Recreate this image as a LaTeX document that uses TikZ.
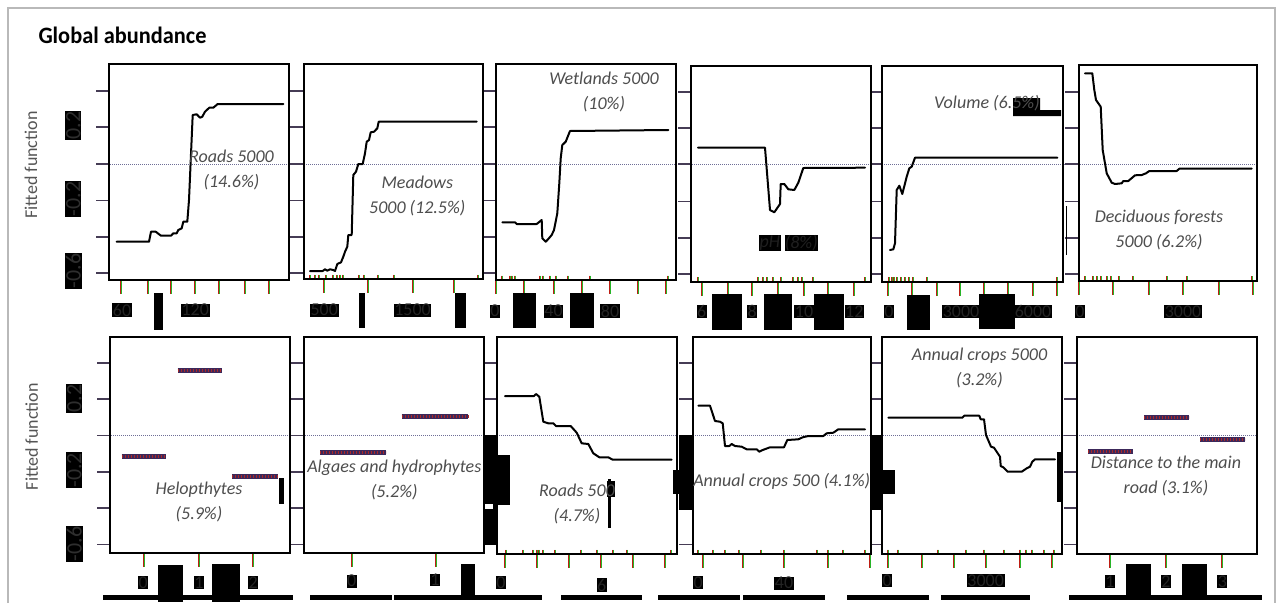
\documentclass[tikz,border=0pt]{standalone}
\usepackage{fontspec}
\setmainfont{Carlito}
\newcommand\rugticks[2]{\foreach \xx in {#2} {\draw[rugr] (\xx-0.5,#1-4.5) -- (\xx-0.5,#1); \draw[rugg] (\xx+0.5,#1-4.5) -- (\xx+0.5,#1);}}
\newcommand\axticks[2]{\foreach \xx in {#2} {\draw[rugr] (\xx-0.5,#1) -- (\xx-0.5,#1+14); \draw[rugg] (\xx+0.5,#1) -- (\xx+0.5,#1+14);}}
\newcommand\yticks[3]{\foreach \yy in {#3} {\draw[ytk] (#1,\yy) -- (#2,\yy);}}
\begin{document}
\begin{tikzpicture}[x=1pt,y=-1pt,
  frame/.style={draw=black, line width=2pt},
  curve/.style={draw=black, line width=2pt, line join=round, line cap=round},
  ytk/.style={draw={rgb,255:red,70;green,60;blue,85}, line width=1.8pt},
  zero/.style={draw={rgb,255:red,110;green,110;blue,150}, line width=0.7pt, dash pattern=on 1pt off 1pt},
  rugr/.style={draw={rgb,255:red,190;green,30;blue,20}, line width=1pt},
  rugg/.style={draw={rgb,255:red,40;green,180;blue,40}, line width=1pt},
  lbl/.style={text={rgb,255:red,78;green,78;blue,78}, font=\fontsize{18}{25}\selectfont\itshape, align=center, inner sep=0pt},
  tl/.style={fill=black, text=black!86, inner sep=0.6pt, font=\fontsize{18}{18}\selectfont},
  yl/.style={fill=black, text=black!82, inner sep=0.8pt, rotate=90, font=\fontsize{22}{22}\selectfont},
  ff/.style={rotate=90, text={rgb,255:red,85;green,85;blue,85}, font=\fontsize{18}{18}\selectfont, inner sep=0pt},
  blk/.style={fill=black},
  fbar/.style={draw={rgb,255:red,60;green,40;blue,90}, line width=5pt},
  fdot/.style={draw={rgb,255:red,170;green,40;blue,40}, line width=3pt, dash pattern=on 1pt off 2pt}
]
\useasboundingbox (0,0) rectangle (1280,603);
\fill[white] (0,0) rectangle (1280,603);
\draw[gray!55, line width=1.5pt] (8,603) -- (8,8) -- (1275,8) -- (1275,603);

% title
\node[anchor=west, inner sep=0pt] (title) at (38.3,35) {\resizebox{168pt}{16.5pt}{\bfseries Global abundance}};

% y axis labels
\node[ff] (ff1) at (31,165) {Fitted function};
\node[ff] (ff2) at (31.7,436.7) {Fitted function};
\node[yl] (ya1) at (73.3,125.5) {0.2};
\node[yl] (ya2) at (73.3,198.7) {-0.2};
\node[yl] (ya3) at (73.3,270.8) {-0.6};
\node[yl] (yb1) at (74.3,398.3) {0.2};
\node[yl] (yb2) at (74.3,470.3) {-0.2};
\node[yl] (yb3) at (74.3,543.8) {-0.6};

% zero lines
\draw[zero] (96,164) -- (1257,164);
\draw[zero] (97,435.5) -- (1257,435.5);

% y ticks
\yticks{96}{109}{91,127,164,200.5,237,273}
\yticks{290}{304}{91,127,164,200.5,237,273}
\yticks{484}{496}{91,127,164,200.5,237,273}
\yticks{678}{690.7}{92,128,164,201.5,238,274}
\yticks{872}{882.3}{92,128,164,201.5,238,274}
\yticks{1065}{1079}{92,128,164,201.5,238,274}
\yticks{97}{110}{363,399,435.5,472,508,544.5}
\yticks{291}{304}{363,399,435.5,472,508,544.5}
\yticks{485}{497.3}{363,399,435.5,472,508,544.5}
\yticks{679}{692.7}{363,399,435.5,472,508,544.5}
\yticks{872}{882.3}{363,399,435.5,472,508,544.5}
\yticks{1064}{1076.7}{363,399,435.5,472,508,544.5}

% rug ticks and axis ticks, top row
\axticks{280}{121,147.7,171,195,219.3,245,269}
\rugticks{279.3}{310,315,319.3,326,332.7,336.7,340,342.7,359.3,364.3,378.3,394.3,478.3}
\axticks{279.3}{324.3,368.3,412.7,454.3}
\rugticks{280}{501.7,510,512.3,515,540,543.3,550,556,567.7,590,668.3}
\axticks{280}{496,524.3,554,582.3,610,638.3,666}
\rugticks{281.7}{698.3,758.3,762.7,766.7,772.7,781,792.7,797.7,801.7,812.7,865}
\axticks{281.7}{701.7,728.3,752.3,778.3,804,828.3,854.3}
\rugticks{281.7}{889.3,891.5,893.5,896.7,900.7,905,909.3,913.3,926.7,1057}
\axticks{281.7}{888.3,912.3,936.7,960,984,1008.3,1032.7,1056.7}
\rugticks{280.7}{1085,1093.3,1097.3,1101,1106.7,1111,1119,1133.3,1167.3,1186.7,1251.7}
\axticks{280.7}{1079,1113.3,1149,1183.3,1219,1253.3}
% bottom row
\axticks{552.7}{144,199.3,253.3}
\axticks{552.7}{351.7,436}
\rugticks{554.3}{506,523.3,533.3,537.3,539.3,543.3,555,581,597.3,613.3,626.7,671}
\axticks{554.3}{505,537.3,569.3,600.7,633.3,665}
\rugticks{554.3}{698.3,712.7,725,739.3,760.7,784.3,817.3,828.3,842.7,865}
\axticks{554.3}{702.7,743.3,784.3,828.3,870}
\rugticks{554}{888.3,898.3,938.3,966,984.3,1004.3,1020,1026,1031.7,1044.3,1054.3}
\axticks{554}{888.3,922.3,954.3,986,1020,1052.3}
\axticks{554}{1110,1166,1222.3}

% curves top row
\draw[curve] plot coordinates {(116.7,241.7) (149,241.7) (151,231.7) (155.7,231.7) (161,235.7) (171,235.7) (173.3,233.3) (176.7,233.3) (178.3,230) (181.7,228.3) (183.3,221.7) (187.3,221.7) (189,200) (192.7,115) (196.7,114.3) (200,117.7) (202.3,116.7) (205,111.7) (209.3,107.7) (213.3,107.7) (217.7,104) (283.3,104)};
\draw[curve] plot coordinates {(310,271) (322.7,271) (325,269.3) (327.3,270.7) (330,269.3) (333.3,270) (335,271) (337.3,264) (341,262.3) (343.3,256.7) (345,251.7) (347.3,246.7) (348.3,235) (351.7,235) (353.3,175) (356,171.7) (358.3,164) (362.7,164) (365,153.3) (366.7,141.7) (369,140) (370.7,132.3) (374,131.7) (377.3,128.3) (378.7,121.7) (476.7,121.7)};
\draw[curve] plot coordinates {(502.3,222.3) (515,222.3) (516.7,224) (536.7,224) (541.7,220) (542.3,238.3) (545.7,241.7) (548.3,239) (551.7,235) (554,230) (557.3,213.3) (559.3,183.3) (560.7,158.3) (562.3,145) (565.7,141.7) (570,131) (668.3,130)};
\draw[curve] plot coordinates {(698,147.7) (765,147.7) (770,210) (774.3,212.3) (780,204) (780.7,184) (784.3,184) (788.3,189.3) (794.3,190) (798.3,182.7) (803.3,168) (865,167.7)};
\draw[curve] plot coordinates {(890,250) (893.3,249.3) (895,243.3) (896.7,190) (899.3,185.7) (902.3,194) (906.7,176.7) (909.3,168.3) (911.7,166.7) (915,157.7) (1057.3,157.7)};
\draw[curve] plot coordinates {(1085,73.3) (1092.3,73.3) (1094.3,90) (1096,100) (1100.7,106.7) (1102.7,150) (1106.7,173.3) (1111.7,182.7) (1115,184) (1121.7,183.3) (1123.3,181) (1128.3,181) (1135,175.3) (1141.7,175) (1146,173.3) (1149.3,171) (1176.7,171) (1179.3,168.7) (1251.7,168.7)};
% curves bottom row
\draw[curve] plot coordinates {(505,396) (534,396) (536,394) (539.3,396.7) (543.3,421.7) (548.3,423.3) (553.3,423.3) (556,426) (570.7,426) (576.7,432.7) (581.7,443.3) (588.3,444) (593.3,453.3) (599.3,457.3) (608.3,457.3) (612.7,459.7) (671.7,459.7)};
\draw[curve] plot coordinates {(698.3,405.7) (710,405.7) (715,421) (720,421.7) (722.7,423.3) (725,446) (729.3,446) (731.7,444) (735,446) (741.7,446.7) (746.7,449.3) (756.7,449.3) (759.3,451.7) (762.7,450) (770,447.3) (784,447.3) (787.3,440) (798.3,439.3) (802.7,437.3) (808.3,436) (823.3,436) (826.7,433.3) (833.3,432.7) (838.3,429.3) (865,429.3)};
\draw[curve] plot coordinates {(888.3,417.7) (962.3,417.7) (964.3,415.7) (979.3,415.7) (980.7,419.3) (984,419.3) (986,435) (989.3,442.7) (991,446.7) (994,447.7) (1000,456.7) (1000.7,466) (1003.3,467.3) (1007.7,471.7) (1021.7,471.7) (1026.7,468.3) (1030,466.7) (1032.3,461.7) (1035,459.3) (1055,459.3)};

% factor bars
\foreach \xa/\xb/\yy in {121.7/166/456.7, 177.7/222.3/370.7, 232.3/278.3/476.7, 320/386/452.7, 401.7/468.3/416.7, 1088.3/1133.3/451.7, 1144/1189/417.7, 1200/1245/439.3} {
  \draw[fbar] (\xa,\yy) -- (\xb,\yy);
  \draw[fdot] (\xa,\yy) -- (\xb,\yy);
}

% frames
\draw[frame] (109,63.5) rectangle (289,280);
\draw[frame] (304,64) rectangle (482.7,279.3);
\draw[frame] (496,64) rectangle (676,280);
\draw[frame] (690.7,65.7) rectangle (870.7,281.7);
\draw[frame] (882.3,65.7) rectangle (1062.7,281.7);
\draw[frame] (1079,65) rectangle (1257.3,280.7);
\draw[frame] (110,336.7) rectangle (290,552.7);
\draw[frame] (304,336.7) rectangle (484,552.7);
\draw[frame] (497.3,337.3) rectangle (677.3,554.3);
\draw[frame] (692.7,337.3) rectangle (870.7,554.3);
\draw[frame] (882.3,337.3) rectangle (1062.3,554);
\draw[frame] (1076.7,337.3) rectangle (1256.7,554);

% black blocks, top row
\fill[blk] (154,292.7) rectangle (162.7,330);
\fill[blk] (359.3,292.7) rectangle (364.7,328.3);
\fill[blk] (455,292.7) rectangle (466,328.3);
\fill[blk] (513.3,293.3) rectangle (536,327.7);
\fill[blk] (570,292.7) rectangle (594,327.7);
\fill[blk] (712.3,294) rectangle (742,330);
\fill[blk] (764,294) rectangle (792.3,330);
\fill[blk] (813.7,294) rectangle (844.3,330);
\fill[blk] (907.3,295) rectangle (930,330);
\fill[blk] (979,294) rectangle (1015.3,329.3);
\fill[blk] (1013,98) -- (1040,98) -- (1040,110) -- (1061,110) -- (1061,116) -- (1013,116) -- cycle;
\draw[black, line width=1pt] (1066,206) -- (1066,255);
% black blocks, bottom row
\fill[blk] (279,477.7) rectangle (284,504.3);
\fill[blk] (484,435) rectangle (497,545);
\fill[white] (485,504) rectangle (493,508.5);
\fill[blk] (497,455) rectangle (510,505);
\fill[blk] (679,435) rectangle (692.3,510);
\fill[blk] (673.3,470) rectangle (692.3,494.3);
\fill[blk] (870,435) rectangle (882.7,510);
\fill[blk] (882.7,470) rectangle (895,494.3);
\fill[blk] (1057.3,452.3) rectangle (1062.3,501.7);
\fill[blk] (607,481) rectangle (615,497);
\fill[blk] (608.3,479.3) rectangle (611,528.3);
\fill[blk] (158.3,565) rectangle (183.3,601.7);
\fill[blk] (212.3,564) rectangle (240,601.7);
\fill[blk] (461,564) rectangle (475,600);
\fill[blk] (1126,564) rectangle (1150.7,600);
\fill[blk] (1182.3,564) rectangle (1206.7,600);
\fill[blk] (597.7,578.3) rectangle (606,590.7);
% bottom bars
\foreach \xa/\xb in {103.3/293.3, 310/391.7, 394.3/541.7, 561/641.7, 658.3/740, 743.3/825, 846.7/929, 941/1030, 1069.3/1262.3} {
  \fill[blk] (\xa,594.5) rectangle (\xb,599.5);
}

% panel labels
\node[lbl] (l1) at (231.5,170.3) {Roads 5000\\(14.6\%)};
\node[lbl] (l2) at (417.3,195.8) {Meadows\\5000 (12.5\%)};
\node[lbl] (l3) at (604,91.7) {Wetlands 5000\\(10\%)};
\node[fill=black, text=black!88, minimum width=21.7pt, minimum height=15.7pt, inner sep=0pt, font=\fontsize{18}{18}\selectfont\itshape] (l4a) at (769.8,242.8) {pH};
\node[fill=black, text=black!88, minimum width=32.7pt, minimum height=15.7pt, inner sep=0pt, font=\fontsize{18}{18}\selectfont\itshape] (l4b) at (801.3,242.8) {(8\%)};
\node[lbl] (l5) at (987,103.3) {Volume (6.5\%)};
\node[lbl] (l6) at (1159,229.5) {Deciduous forests\\5000 (6.2\%)};
\node[lbl] (l7) at (199,501.7) {Helopthytes\\(5.9\%)};
\node[lbl] (l8) at (394.3,479.8) {Algaes and hydrophytes\\(5.2\%)};
\node[lbl] (l9) at (577,503.8) {Roads 500\\(4.7\%)};
\node[lbl] (l10) at (781.7,481.7) {Annual crops 500 (4.1\%)};
\node[lbl] (l11) at (979.5,367.5) {Annual crops 5000\\(3.2\%)};
\node[lbl] (l12) at (1166,476.3) {Distance to the main\\road (3.1\%)};

% x tick labels, top row
\node[tl] (t1a) at (122,310) {60};
\node[tl] (t1b) at (195.3,310) {120};
\node[tl] (t2a) at (324.3,310) {500};
\node[tl] (t2b) at (412.5,310) {1500};
\node[tl] (t3a) at (495,311) {0};
\node[tl] (t3b) at (553.5,311) {40};
\node[tl] (t3c) at (610,311) {80};
\node[tl] (t4a) at (701.7,311.5) {6};
\node[tl] (t4b) at (752.3,311.5) {8};
\node[tl] (t4c) at (804,311.5) {10};
\node[tl] (t4d) at (854.3,311.5) {12};
\node[tl] (t5a) at (889,311.5) {0};
\node[tl] (t5b) at (961,311.5) {3000};
\node[tl] (t5c) at (1033,311.5) {6000};
\node[tl] (t6a) at (1080,311.5) {0};
\node[tl] (t6b) at (1183,311.5) {3000};
% x tick labels, bottom row
\node[tl] (u1a) at (143.3,582.3) {0};
\node[tl] (u1b) at (199,582.3) {1};
\node[tl] (u1c) at (253.3,582.3) {2};
\node[tl] (u2a) at (351.7,581) {0};
\node[tl] (u2b) at (435,580) {1};
\node[tl] (u3a) at (501,582.3) {0};
\node[tl] (u3b) at (601.7,585) {6};
\node[tl] (u4a) at (698.3,582.3) {0};
\node[tl] (u4b) at (784,583) {40};
\node[tl] (u5a) at (887.3,580.7) {0};
\node[tl] (u5b) at (985.7,580.7) {3000};
\node[tl] (u6a) at (1110,581.7) {1};
\node[tl] (u6b) at (1166,581.7) {2};
\node[tl] (u6c) at (1222.3,581.7) {3};
\end{tikzpicture}
\end{document}
